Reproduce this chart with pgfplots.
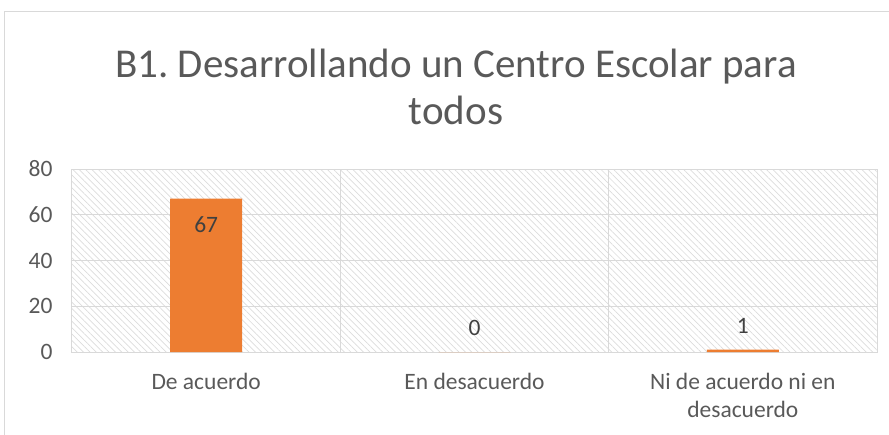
\documentclass[border=0pt]{standalone}
\usepackage{pgfplots}
\pgfplotsset{compat=1.18}
\usepackage{fontspec}
\setmainfont{Carlito}
\frenchspacing
\usetikzlibrary{patterns.meta}
\definecolor{barorange}{HTML}{ED7D31}
\definecolor{gridgray}{HTML}{D9D9D9}
\definecolor{hatchgray}{HTML}{DCDCDC}
\definecolor{labelgray}{HTML}{595959}
\definecolor{textdark}{HTML}{404040}
\begin{document}
\begin{tikzpicture}
\useasboundingbox (-72pt,-82pt) rectangle (817pt,352pt);
\draw[gridgray, line width=1pt] (-67pt,-90pt) -- (-67pt,340pt) -- (830pt,340pt);
\begin{axis}[
  at={(0pt,0pt)}, anchor=south west,
  scale only axis, width=805pt, height=183pt,
  xmin=-0.5, xmax=2.5, ymin=0, ymax=80,
  ytick={0,20,40,60,80},
  xtick={0,1,2},
  xticklabels={De acuerdo, En desacuerdo, {Ni de acuerdo ni en\\desacuerdo}},
  minor xtick={0.5,1.5},
  xminorgrids, ymajorgrids,
  grid style={gridgray, line width=1pt},
  minor grid style={gridgray, line width=1pt},
  axis line style={gridgray, line width=1pt},
  major tick length=0pt, minor tick length=0pt,
  tick label style={font=\fontsize{23.5}{28}\selectfont, text=labelgray},
  /pgf/number format/assume math mode=true,
  xticklabel style={align=center, yshift=-18pt},
  yticklabel style={xshift=-16pt},
  axis background/.style={pattern={Lines[angle=-45, distance=4.5pt, line width=0.7pt]}, pattern color=hatchgray},
  ybar, bar width=72pt,
  visualization depends on={y \as \rawy},
  nodes near coords,
  every node near coord/.append style={font=\fontsize{23.5}{28}\selectfont, text=textdark, anchor=center, yshift={ifthenelse(\rawy>10,-26,24)}},
]
\addplot[fill=barorange, draw=none] coordinates {(0,67) (1,0) (2,1)};
\end{axis}
\node[anchor=base, text=labelgray, font=\fontsize{41}{49}\selectfont] at (384pt,274pt) {B1. Desarrollando un Centro Escolar para};
\node[anchor=base, text=labelgray, font=\fontsize{41}{49}\selectfont] at (384pt,227pt) {todos};
\end{tikzpicture}
\end{document}
